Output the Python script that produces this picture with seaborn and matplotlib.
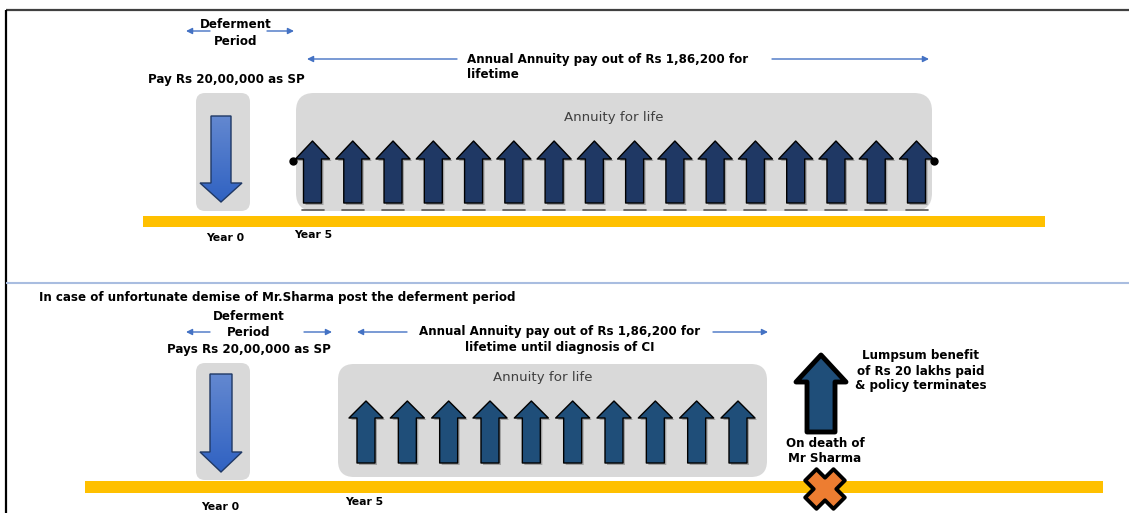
import matplotlib
matplotlib.use("Agg")
import matplotlib.pyplot as plt
import numpy as np
import seaborn as sns
from matplotlib.patches import Polygon, FancyBboxPatch
from matplotlib.colors import LinearSegmentedColormap

sns.set_theme(style="white")
plt.rcParams['font.family'] = ['DejaVu Sans']

# ---- content ----
n_annuity_top = 16          # annual payouts drawn in the lifetime scenario
n_annuity_bottom = 10       # payouts until death in the second scenario
deferment_label = "Deferment\nPeriod"
pay_top = "Pay Rs 20,00,000 as SP"
pay_bottom = "Pays Rs 20,00,000 as SP"
annuity_top = "Annual Annuity pay out of Rs 1,86,200 for\nlifetime"
annuity_bottom = "Annual Annuity pay out of Rs 1,86,200 for\nlifetime until diagnosis of CI"
box_label = "Annuity for life"
year_labels = ["Year 0", "Year 5"]
scenario_title = "In case of unfortunate demise of Mr.Sharma post the deferment period"
death_label = "On death of\nMr Sharma"
lumpsum_label = "Lumpsum benefit\nof Rs 20 lakhs paid\n& policy terminates"

# ---- colours ----
c_bar = "#ffc000"
c_box = "#d9d9d9"
c_up_top = "#1f3864"
c_up_bot = "#1f4e79"
c_thin = "#4472c4"
c_sep = "#a9bde0"
c_x = "#ed7d31"

W, H = 1129, 513
fig = plt.figure(figsize=(W / 100, H / 100), dpi=100)
ax = fig.add_axes([0, 0, 1, 1])
ax.set_xlim(0, W)
ax.set_ylim(H, 0)
ax.axis("off")

fs = 8.6


def up_arrow(cx, top, neck, bottom, hw, sw, color, lw=1.0, ec="black", shadow=True):
    pts = [(cx, top), (cx + hw, neck), (cx + sw, neck), (cx + sw, bottom),
           (cx - sw, bottom), (cx - sw, neck), (cx - hw, neck)]
    if shadow:
        sp = [(x + 2, y + 2) for x, y in pts]
        ax.add_patch(Polygon(sp, closed=True, fc="#000000", ec="none", alpha=0.25, zorder=3))
    ax.add_patch(Polygon(pts, closed=True, fc=color, ec=ec, lw=lw, zorder=4,
                         joinstyle="round"))


def down_arrow(cx, top, neck, tip, hw, sw):
    pts = [(cx - sw, top), (cx + sw, top), (cx + sw, neck), (cx + hw, neck),
           (cx, tip), (cx - hw, neck), (cx - sw, neck)]
    poly = Polygon(pts, closed=True, fc="none", ec="#1f3864", lw=1.0, zorder=5)
    ax.add_patch(poly)
    cmap = LinearSegmentedColormap.from_list("g", ["#6388d0", "#3062c2"])
    grad = np.linspace(0, 1, 100).reshape(-1, 1)
    im = ax.imshow(grad, cmap=cmap, extent=(cx - hw, cx + hw, tip, top),
                   origin="upper", aspect="auto", zorder=4)
    im.set_clip_path(poly)


def rbox(x0, y0, x1, y1, r):
    ax.add_patch(FancyBboxPatch((x0, y0), x1 - x0, y1 - y0,
                                boxstyle=f"round,pad=0,rounding_size={r}",
                                fc=c_box, ec="none", zorder=1))


def thin_arrow(x_from, x_to, y):
    ax.annotate("", xy=(x_to, y), xytext=(x_from, y),
                arrowprops=dict(arrowstyle="-|>", color=c_thin, lw=1.0,
                                mutation_scale=9, shrinkA=0, shrinkB=0))


def btext(x, y, s, ha="center", size=fs, ls=1.2):
    ax.text(x, y, s, ha=ha, va="center", fontsize=size, fontweight="bold",
            linespacing=ls, color="black", zorder=6)


def cross(cx, cy, L, t):
    # plus shape rotated by 45 degrees
    p = [(t, L), (t, t), (L, t), (L, -t), (t, -t), (t, -L),
         (-t, -L), (-t, -t), (-L, -t), (-L, t), (-t, t), (-t, L)]
    c = s = np.sqrt(0.5)
    pts = [(cx + x * c - y * s, cy + x * s + y * c) for x, y in p]
    ax.add_patch(Polygon(pts, closed=True, fc=c_x, ec="black", lw=2.8,
                         joinstyle="round", zorder=6))


# ---- frame ----
ax.plot([6, W], [10, 10], color="#404040", lw=1.6, solid_capstyle="butt")
ax.plot([6, 6], [10, H], color="black", lw=1.6, solid_capstyle="butt")
ax.plot([6, W], [283, 283], color=c_sep, lw=1.5, solid_capstyle="butt")

# ================= top scenario =================
btext(236, 33, deferment_label, ls=1.35)
thin_arrow(210, 186, 31)
thin_arrow(267, 294, 31)
thin_arrow(457, 307, 59)
thin_arrow(772, 929, 59)
btext(467, 67, annuity_top, ha="left", ls=1.3)
btext(226, 80, pay_top)

rbox(196, 93, 250, 211, 9)
down_arrow(221, 116, 183, 202, 21, 10)

rbox(296, 93, 932, 211, 18)
ax.text(614, 117, box_label, ha="center", va="center", fontsize=9.6,
        color="#404040")

centers = np.linspace(312.5, 916.5, n_annuity_top)
for cx in centers:
    ax.plot([cx - 11, cx + 11], [210, 210], color="#555555", lw=1.2, zorder=2)
    up_arrow(cx, 141, 159, 203, 17, 9, c_up_top)
ax.plot([293, 934], [161, 161], "o", color="black", ms=5, zorder=5)

ax.add_patch(plt.Rectangle((143, 216), 1045 - 143, 11, fc=c_bar, ec="none", zorder=2))
btext(225, 238, year_labels[0], size=fs - 0.8)
btext(313, 235, year_labels[1], size=fs - 0.8)

# ================= bottom scenario =================
btext(39, 297, scenario_title, ha="left")
btext(249, 325, deferment_label, ls=1.3)
btext(249, 349, pay_bottom)
thin_arrow(210, 186, 332)
thin_arrow(304, 332, 332)
thin_arrow(407, 357, 332)
thin_arrow(713, 768, 332)
btext(560, 340, annuity_bottom, ls=1.3)

rbox(196, 363, 250, 480, 9)
down_arrow(221, 374, 452, 472, 21, 11)

rbox(338, 364, 767, 477, 16)
ax.text(543, 378, box_label, ha="center", va="center", fontsize=9.6,
        color="#404040")

centers_b = np.linspace(366, 738, n_annuity_bottom)
for cx in centers_b:
    up_arrow(cx, 401, 418, 463, 17, 9, c_up_bot)

ax.add_patch(plt.Rectangle((85, 481), 1103 - 85, 12, fc=c_bar, ec="none", zorder=2))
btext(220, 507, year_labels[0], size=fs - 0.8)
btext(364, 502, year_labels[1], size=fs - 0.8)

# lump sum on death
up_arrow(821, 355, 382, 432, 25, 14, c_up_bot, lw=3.5, shadow=False)
btext(921, 371, lumpsum_label)
btext(825, 451, death_label)
cross(825, 489, 20, 8)

fig.savefig("out.png", dpi=100)
